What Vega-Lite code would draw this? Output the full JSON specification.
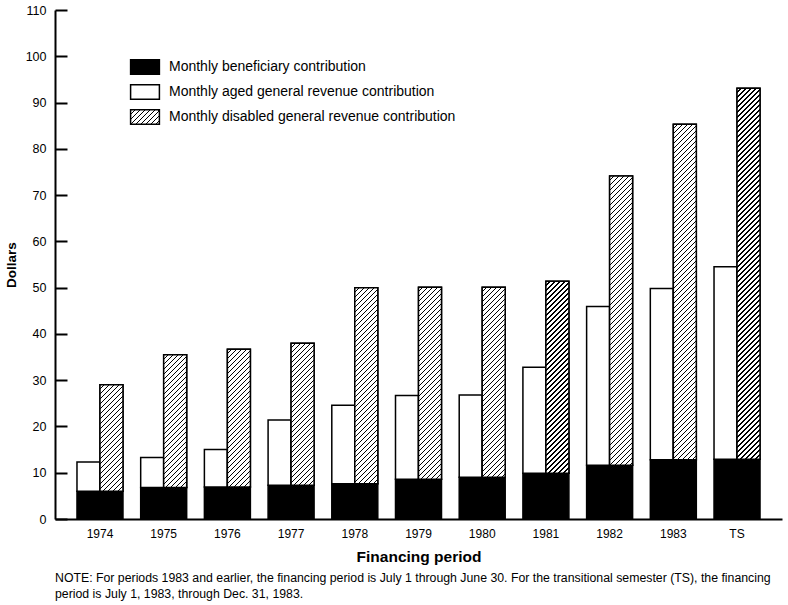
{
 "$schema": "https://vega.github.io/schema/vega-lite/v6.json",
 "width": 727,
 "height": 509,
 "autosize": {"type": "none"},
 "padding": {"left": 55, "top": 10, "right": 6, "bottom": 86},
 "background": "white",
 "config": {"font": "Liberation Sans", "view": {"stroke": null}},
 "params": [
  {"name": "hatchStops", "value": [
{"offset":0,"color":"#fff"},{"offset":0.0094,"color":"#fff"},{"offset":0.0094,"color":"#000"},{"offset":0.0125,"color":"#000"},{"offset":0.0125,"color":"#fff"},{"offset":0.0219,"color":"#fff"},{"offset":0.0219,"color":"#000"},{"offset":0.025,"color":"#000"},{"offset":0.025,"color":"#fff"},{"offset":0.0344,"color":"#fff"},{"offset":0.0344,"color":"#000"},{"offset":0.0375,"color":"#000"},{"offset":0.0375,"color":"#fff"},{"offset":0.0469,"color":"#fff"},{"offset":0.0469,"color":"#000"},{"offset":0.05,"color":"#000"},
{"offset":0.05,"color":"#fff"},{"offset":0.0594,"color":"#fff"},{"offset":0.0594,"color":"#000"},{"offset":0.0625,"color":"#000"},{"offset":0.0625,"color":"#fff"},{"offset":0.0719,"color":"#fff"},{"offset":0.0719,"color":"#000"},{"offset":0.075,"color":"#000"},{"offset":0.075,"color":"#fff"},{"offset":0.0844,"color":"#fff"},{"offset":0.0844,"color":"#000"},{"offset":0.0875,"color":"#000"},{"offset":0.0875,"color":"#fff"},{"offset":0.0969,"color":"#fff"},{"offset":0.0969,"color":"#000"},{"offset":0.1,"color":"#000"},
{"offset":0.1,"color":"#fff"},{"offset":0.1094,"color":"#fff"},{"offset":0.1094,"color":"#000"},{"offset":0.1125,"color":"#000"},{"offset":0.1125,"color":"#fff"},{"offset":0.1219,"color":"#fff"},{"offset":0.1219,"color":"#000"},{"offset":0.125,"color":"#000"},{"offset":0.125,"color":"#fff"},{"offset":0.1344,"color":"#fff"},{"offset":0.1344,"color":"#000"},{"offset":0.1375,"color":"#000"},{"offset":0.1375,"color":"#fff"},{"offset":0.1469,"color":"#fff"},{"offset":0.1469,"color":"#000"},{"offset":0.15,"color":"#000"},
{"offset":0.15,"color":"#fff"},{"offset":0.1594,"color":"#fff"},{"offset":0.1594,"color":"#000"},{"offset":0.1625,"color":"#000"},{"offset":0.1625,"color":"#fff"},{"offset":0.1719,"color":"#fff"},{"offset":0.1719,"color":"#000"},{"offset":0.175,"color":"#000"},{"offset":0.175,"color":"#fff"},{"offset":0.1844,"color":"#fff"},{"offset":0.1844,"color":"#000"},{"offset":0.1875,"color":"#000"},{"offset":0.1875,"color":"#fff"},{"offset":0.1969,"color":"#fff"},{"offset":0.1969,"color":"#000"},{"offset":0.2,"color":"#000"},
{"offset":0.2,"color":"#fff"},{"offset":0.2094,"color":"#fff"},{"offset":0.2094,"color":"#000"},{"offset":0.2125,"color":"#000"},{"offset":0.2125,"color":"#fff"},{"offset":0.2219,"color":"#fff"},{"offset":0.2219,"color":"#000"},{"offset":0.225,"color":"#000"},{"offset":0.225,"color":"#fff"},{"offset":0.2344,"color":"#fff"},{"offset":0.2344,"color":"#000"},{"offset":0.2375,"color":"#000"},{"offset":0.2375,"color":"#fff"},{"offset":0.2469,"color":"#fff"},{"offset":0.2469,"color":"#000"},{"offset":0.25,"color":"#000"},
{"offset":0.25,"color":"#fff"},{"offset":0.2594,"color":"#fff"},{"offset":0.2594,"color":"#000"},{"offset":0.2625,"color":"#000"},{"offset":0.2625,"color":"#fff"},{"offset":0.2719,"color":"#fff"},{"offset":0.2719,"color":"#000"},{"offset":0.275,"color":"#000"},{"offset":0.275,"color":"#fff"},{"offset":0.2844,"color":"#fff"},{"offset":0.2844,"color":"#000"},{"offset":0.2875,"color":"#000"},{"offset":0.2875,"color":"#fff"},{"offset":0.2969,"color":"#fff"},{"offset":0.2969,"color":"#000"},{"offset":0.3,"color":"#000"},
{"offset":0.3,"color":"#fff"},{"offset":0.3094,"color":"#fff"},{"offset":0.3094,"color":"#000"},{"offset":0.3125,"color":"#000"},{"offset":0.3125,"color":"#fff"},{"offset":0.3219,"color":"#fff"},{"offset":0.3219,"color":"#000"},{"offset":0.325,"color":"#000"},{"offset":0.325,"color":"#fff"},{"offset":0.3344,"color":"#fff"},{"offset":0.3344,"color":"#000"},{"offset":0.3375,"color":"#000"},{"offset":0.3375,"color":"#fff"},{"offset":0.3469,"color":"#fff"},{"offset":0.3469,"color":"#000"},{"offset":0.35,"color":"#000"},
{"offset":0.35,"color":"#fff"},{"offset":0.3594,"color":"#fff"},{"offset":0.3594,"color":"#000"},{"offset":0.3625,"color":"#000"},{"offset":0.3625,"color":"#fff"},{"offset":0.3719,"color":"#fff"},{"offset":0.3719,"color":"#000"},{"offset":0.375,"color":"#000"},{"offset":0.375,"color":"#fff"},{"offset":0.3844,"color":"#fff"},{"offset":0.3844,"color":"#000"},{"offset":0.3875,"color":"#000"},{"offset":0.3875,"color":"#fff"},{"offset":0.3969,"color":"#fff"},{"offset":0.3969,"color":"#000"},{"offset":0.4,"color":"#000"},
{"offset":0.4,"color":"#fff"},{"offset":0.4094,"color":"#fff"},{"offset":0.4094,"color":"#000"},{"offset":0.4125,"color":"#000"},{"offset":0.4125,"color":"#fff"},{"offset":0.4219,"color":"#fff"},{"offset":0.4219,"color":"#000"},{"offset":0.425,"color":"#000"},{"offset":0.425,"color":"#fff"},{"offset":0.4344,"color":"#fff"},{"offset":0.4344,"color":"#000"},{"offset":0.4375,"color":"#000"},{"offset":0.4375,"color":"#fff"},{"offset":0.4469,"color":"#fff"},{"offset":0.4469,"color":"#000"},{"offset":0.45,"color":"#000"},
{"offset":0.45,"color":"#fff"},{"offset":0.4594,"color":"#fff"},{"offset":0.4594,"color":"#000"},{"offset":0.4625,"color":"#000"},{"offset":0.4625,"color":"#fff"},{"offset":0.4719,"color":"#fff"},{"offset":0.4719,"color":"#000"},{"offset":0.475,"color":"#000"},{"offset":0.475,"color":"#fff"},{"offset":0.4844,"color":"#fff"},{"offset":0.4844,"color":"#000"},{"offset":0.4875,"color":"#000"},{"offset":0.4875,"color":"#fff"},{"offset":0.4969,"color":"#fff"},{"offset":0.4969,"color":"#000"},{"offset":0.5,"color":"#000"},
{"offset":0.5,"color":"#fff"},{"offset":0.5094,"color":"#fff"},{"offset":0.5094,"color":"#000"},{"offset":0.5125,"color":"#000"},{"offset":0.5125,"color":"#fff"},{"offset":0.5219,"color":"#fff"},{"offset":0.5219,"color":"#000"},{"offset":0.525,"color":"#000"},{"offset":0.525,"color":"#fff"},{"offset":0.5344,"color":"#fff"},{"offset":0.5344,"color":"#000"},{"offset":0.5375,"color":"#000"},{"offset":0.5375,"color":"#fff"},{"offset":0.5469,"color":"#fff"},{"offset":0.5469,"color":"#000"},{"offset":0.55,"color":"#000"},
{"offset":0.55,"color":"#fff"},{"offset":0.5594,"color":"#fff"},{"offset":0.5594,"color":"#000"},{"offset":0.5625,"color":"#000"},{"offset":0.5625,"color":"#fff"},{"offset":0.5719,"color":"#fff"},{"offset":0.5719,"color":"#000"},{"offset":0.575,"color":"#000"},{"offset":0.575,"color":"#fff"},{"offset":0.5844,"color":"#fff"},{"offset":0.5844,"color":"#000"},{"offset":0.5875,"color":"#000"},{"offset":0.5875,"color":"#fff"},{"offset":0.5969,"color":"#fff"},{"offset":0.5969,"color":"#000"},{"offset":0.6,"color":"#000"},
{"offset":0.6,"color":"#fff"},{"offset":0.6094,"color":"#fff"},{"offset":0.6094,"color":"#000"},{"offset":0.6125,"color":"#000"},{"offset":0.6125,"color":"#fff"},{"offset":0.6219,"color":"#fff"},{"offset":0.6219,"color":"#000"},{"offset":0.625,"color":"#000"},{"offset":0.625,"color":"#fff"},{"offset":0.6344,"color":"#fff"},{"offset":0.6344,"color":"#000"},{"offset":0.6375,"color":"#000"},{"offset":0.6375,"color":"#fff"},{"offset":0.6469,"color":"#fff"},{"offset":0.6469,"color":"#000"},{"offset":0.65,"color":"#000"},
{"offset":0.65,"color":"#fff"},{"offset":0.6594,"color":"#fff"},{"offset":0.6594,"color":"#000"},{"offset":0.6625,"color":"#000"},{"offset":0.6625,"color":"#fff"},{"offset":0.6719,"color":"#fff"},{"offset":0.6719,"color":"#000"},{"offset":0.675,"color":"#000"},{"offset":0.675,"color":"#fff"},{"offset":0.6844,"color":"#fff"},{"offset":0.6844,"color":"#000"},{"offset":0.6875,"color":"#000"},{"offset":0.6875,"color":"#fff"},{"offset":0.6969,"color":"#fff"},{"offset":0.6969,"color":"#000"},{"offset":0.7,"color":"#000"},
{"offset":0.7,"color":"#fff"},{"offset":0.7094,"color":"#fff"},{"offset":0.7094,"color":"#000"},{"offset":0.7125,"color":"#000"},{"offset":0.7125,"color":"#fff"},{"offset":0.7219,"color":"#fff"},{"offset":0.7219,"color":"#000"},{"offset":0.725,"color":"#000"},{"offset":0.725,"color":"#fff"},{"offset":0.7344,"color":"#fff"},{"offset":0.7344,"color":"#000"},{"offset":0.7375,"color":"#000"},{"offset":0.7375,"color":"#fff"},{"offset":0.7469,"color":"#fff"},{"offset":0.7469,"color":"#000"},{"offset":0.75,"color":"#000"},
{"offset":0.75,"color":"#fff"},{"offset":0.7594,"color":"#fff"},{"offset":0.7594,"color":"#000"},{"offset":0.7625,"color":"#000"},{"offset":0.7625,"color":"#fff"},{"offset":0.7719,"color":"#fff"},{"offset":0.7719,"color":"#000"},{"offset":0.775,"color":"#000"},{"offset":0.775,"color":"#fff"},{"offset":0.7844,"color":"#fff"},{"offset":0.7844,"color":"#000"},{"offset":0.7875,"color":"#000"},{"offset":0.7875,"color":"#fff"},{"offset":0.7969,"color":"#fff"},{"offset":0.7969,"color":"#000"},{"offset":0.8,"color":"#000"},
{"offset":0.8,"color":"#fff"},{"offset":0.8094,"color":"#fff"},{"offset":0.8094,"color":"#000"},{"offset":0.8125,"color":"#000"},{"offset":0.8125,"color":"#fff"},{"offset":0.8219,"color":"#fff"},{"offset":0.8219,"color":"#000"},{"offset":0.825,"color":"#000"},{"offset":0.825,"color":"#fff"},{"offset":0.8344,"color":"#fff"},{"offset":0.8344,"color":"#000"},{"offset":0.8375,"color":"#000"},{"offset":0.8375,"color":"#fff"},{"offset":0.8469,"color":"#fff"},{"offset":0.8469,"color":"#000"},{"offset":0.85,"color":"#000"},
{"offset":0.85,"color":"#fff"},{"offset":0.8594,"color":"#fff"},{"offset":0.8594,"color":"#000"},{"offset":0.8625,"color":"#000"},{"offset":0.8625,"color":"#fff"},{"offset":0.8719,"color":"#fff"},{"offset":0.8719,"color":"#000"},{"offset":0.875,"color":"#000"},{"offset":0.875,"color":"#fff"},{"offset":0.8844,"color":"#fff"},{"offset":0.8844,"color":"#000"},{"offset":0.8875,"color":"#000"},{"offset":0.8875,"color":"#fff"},{"offset":0.8969,"color":"#fff"},{"offset":0.8969,"color":"#000"},{"offset":0.9,"color":"#000"},
{"offset":0.9,"color":"#fff"},{"offset":0.9094,"color":"#fff"},{"offset":0.9094,"color":"#000"},{"offset":0.9125,"color":"#000"},{"offset":0.9125,"color":"#fff"},{"offset":0.9219,"color":"#fff"},{"offset":0.9219,"color":"#000"},{"offset":0.925,"color":"#000"},{"offset":0.925,"color":"#fff"},{"offset":0.9344,"color":"#fff"},{"offset":0.9344,"color":"#000"},{"offset":0.9375,"color":"#000"},{"offset":0.9375,"color":"#fff"},{"offset":0.9469,"color":"#fff"},{"offset":0.9469,"color":"#000"},{"offset":0.95,"color":"#000"},
{"offset":0.95,"color":"#fff"},{"offset":0.9594,"color":"#fff"},{"offset":0.9594,"color":"#000"},{"offset":0.9625,"color":"#000"},{"offset":0.9625,"color":"#fff"},{"offset":0.9719,"color":"#fff"},{"offset":0.9719,"color":"#000"},{"offset":0.975,"color":"#000"},{"offset":0.975,"color":"#fff"},{"offset":0.9844,"color":"#fff"},{"offset":0.9844,"color":"#000"},{"offset":0.9875,"color":"#000"},{"offset":0.9875,"color":"#fff"},{"offset":0.9969,"color":"#fff"},{"offset":0.9969,"color":"#000"},{"offset":1,"color":"#000"}
  ]}
 ],
 "title": {
  "text": ["NOTE:  For periods 1983 and earlier, the financing period is  July 1 through June 30. For the transitional semester (TS), the financing", "period is July 1, 1983, through Dec. 31, 1983."],
  "orient": "bottom",
  "anchor": "start",
  "frame": "group",
  "fontSize": 12.3,
  "fontWeight": "normal",
  "color": "#000",
  "offset": 7,
  "lineHeight": 16
 },
 "data": {"values": [
  {"period": "1974", "bar": "aged", "part": "base", "component": "Monthly beneficiary contribution", "value": 6.0},
  {"period": "1974", "bar": "aged", "part": "top", "component": "Monthly aged general revenue contribution", "value": 6.3},
  {"period": "1974", "bar": "disabled", "part": "base", "component": "Monthly beneficiary contribution", "value": 6.0},
  {"period": "1974", "bar": "disabled", "part": "top", "component": "Monthly disabled general revenue contribution", "value": 23.0},
  {"period": "1975", "bar": "aged", "part": "base", "component": "Monthly beneficiary contribution", "value": 6.8},
  {"period": "1975", "bar": "aged", "part": "top", "component": "Monthly aged general revenue contribution", "value": 6.5},
  {"period": "1975", "bar": "disabled", "part": "base", "component": "Monthly beneficiary contribution", "value": 6.8},
  {"period": "1975", "bar": "disabled", "part": "top", "component": "Monthly disabled general revenue contribution", "value": 28.7},
  {"period": "1976", "bar": "aged", "part": "base", "component": "Monthly beneficiary contribution", "value": 6.9},
  {"period": "1976", "bar": "aged", "part": "top", "component": "Monthly aged general revenue contribution", "value": 8.1},
  {"period": "1976", "bar": "disabled", "part": "base", "component": "Monthly beneficiary contribution", "value": 6.9},
  {"period": "1976", "bar": "disabled", "part": "top", "component": "Monthly disabled general revenue contribution", "value": 29.8},
  {"period": "1977", "bar": "aged", "part": "base", "component": "Monthly beneficiary contribution", "value": 7.3},
  {"period": "1977", "bar": "aged", "part": "top", "component": "Monthly aged general revenue contribution", "value": 14.1},
  {"period": "1977", "bar": "disabled", "part": "base", "component": "Monthly beneficiary contribution", "value": 7.3},
  {"period": "1977", "bar": "disabled", "part": "top", "component": "Monthly disabled general revenue contribution", "value": 30.7},
  {"period": "1978", "bar": "aged", "part": "base", "component": "Monthly beneficiary contribution", "value": 7.6},
  {"period": "1978", "bar": "aged", "part": "top", "component": "Monthly aged general revenue contribution", "value": 17.0},
  {"period": "1978", "bar": "disabled", "part": "base", "component": "Monthly beneficiary contribution", "value": 7.6},
  {"period": "1978", "bar": "disabled", "part": "top", "component": "Monthly disabled general revenue contribution", "value": 42.4},
  {"period": "1979", "bar": "aged", "part": "base", "component": "Monthly beneficiary contribution", "value": 8.6},
  {"period": "1979", "bar": "aged", "part": "top", "component": "Monthly aged general revenue contribution", "value": 18.1},
  {"period": "1979", "bar": "disabled", "part": "base", "component": "Monthly beneficiary contribution", "value": 8.6},
  {"period": "1979", "bar": "disabled", "part": "top", "component": "Monthly disabled general revenue contribution", "value": 41.5},
  {"period": "1980", "bar": "aged", "part": "base", "component": "Monthly beneficiary contribution", "value": 9.0},
  {"period": "1980", "bar": "aged", "part": "top", "component": "Monthly aged general revenue contribution", "value": 17.8},
  {"period": "1980", "bar": "disabled", "part": "base", "component": "Monthly beneficiary contribution", "value": 9.0},
  {"period": "1980", "bar": "disabled", "part": "top", "component": "Monthly disabled general revenue contribution", "value": 41.1},
  {"period": "1981", "bar": "aged", "part": "base", "component": "Monthly beneficiary contribution", "value": 9.9},
  {"period": "1981", "bar": "aged", "part": "top", "component": "Monthly aged general revenue contribution", "value": 22.9},
  {"period": "1981", "bar": "disabled", "part": "base", "component": "Monthly beneficiary contribution", "value": 9.9},
  {"period": "1981", "bar": "disabled", "part": "top", "component": "Monthly disabled general revenue contribution", "value": 41.5},
  {"period": "1982", "bar": "aged", "part": "base", "component": "Monthly beneficiary contribution", "value": 11.6},
  {"period": "1982", "bar": "aged", "part": "top", "component": "Monthly aged general revenue contribution", "value": 34.3},
  {"period": "1982", "bar": "disabled", "part": "base", "component": "Monthly beneficiary contribution", "value": 11.6},
  {"period": "1982", "bar": "disabled", "part": "top", "component": "Monthly disabled general revenue contribution", "value": 62.5},
  {"period": "1983", "bar": "aged", "part": "base", "component": "Monthly beneficiary contribution", "value": 12.8},
  {"period": "1983", "bar": "aged", "part": "top", "component": "Monthly aged general revenue contribution", "value": 37.0},
  {"period": "1983", "bar": "disabled", "part": "base", "component": "Monthly beneficiary contribution", "value": 12.8},
  {"period": "1983", "bar": "disabled", "part": "top", "component": "Monthly disabled general revenue contribution", "value": 72.5},
  {"period": "TS", "bar": "aged", "part": "base", "component": "Monthly beneficiary contribution", "value": 12.9},
  {"period": "TS", "bar": "aged", "part": "top", "component": "Monthly aged general revenue contribution", "value": 41.6},
  {"period": "TS", "bar": "disabled", "part": "base", "component": "Monthly beneficiary contribution", "value": 12.9},
  {"period": "TS", "bar": "disabled", "part": "top", "component": "Monthly disabled general revenue contribution", "value": 80.2}
 ]},
 "encoding": {
  "x": {
   "field": "period", "type": "nominal", "sort": null,
   "scale": {"paddingInner": 0.278, "paddingOuter": 0.345},
   "axis": {"title": "Financing period", "ticks": false, "domainColor": "#000", "domainWidth": 2, "labelAngle": 0, "labelFontSize": 12, "labelColor": "#000", "labelPadding": 9, "titleFontSize": 15.5, "titleFontWeight": "bold", "titleColor": "#000", "titlePadding": 10}
  },
  "xOffset": {"field": "bar", "type": "nominal", "sort": ["aged", "disabled"], "scale": {"domain": ["aged", "disabled"], "paddingInner": 0, "paddingOuter": 0}}
 },
 "layer": [
  {
   "mark": {"type": "bar", "stroke": "#000", "strokeWidth": 1.5},
   "encoding": {
    "y": {
     "field": "value", "type": "quantitative", "stack": "zero",
     "scale": {"domain": [0, 110], "nice": false},
     "axis": {"title": "Dollars", "values": [0, 10, 20, 30, 40, 50, 60, 70, 80, 90, 100, 110], "grid": false, "domainColor": "#000", "domainWidth": 2, "tickColor": "#000", "tickWidth": 2, "tickSize": -12, "labelPadding": 21, "labelFontSize": 12.5, "labelColor": "#000", "titleFontSize": 13.5, "titleFontWeight": "bold", "titleColor": "#000", "titlePadding": 7}
    },
    "order": {"field": "part"},
    "fill": {
     "field": "component", "type": "nominal",
     "scale": {"domain": ["Monthly beneficiary contribution", "Monthly aged general revenue contribution", "Monthly disabled general revenue contribution"], "range": ["#000", "#fff", {"expr": "{gradient: 'linear', x1: 0, y1: 0, x2: 11.19, y2: 5.4, stops: hatchStops}"}]},
     "legend": {
      "orient": "none", "legendX": 77, "legendY": 44, "title": null, "padding": 0,
      "symbolType": "M-1.2,-0.6H1.2V0.6H-1.2Z", "symbolSize": 576,
      "symbolStrokeColor": "#000", "symbolStrokeWidth": 1.5,
      "labelFontSize": 14, "labelColor": "#000", "labelOffset": 11, "labelLimit": 500, "rowPadding": 1
     }
    }
   }
  },
  {
   "transform": [
    {"stack": "value", "groupby": ["period", "bar"], "sort": [{"field": "part", "order": "ascending"}], "as": ["v0", "v1"]},
    {"filter": "datum.component === 'Monthly disabled general revenue contribution'"}
   ],
   "mark": {"type": "bar", "stroke": "#000", "strokeWidth": 1.5},
   "encoding": {
    "y": {
     "field": "v1", "type": "quantitative",
     "axis": {"title": "Dollars", "values": [0, 10, 20, 30, 40, 50, 60, 70, 80, 90, 100, 110], "grid": false, "domainColor": "#000", "domainWidth": 2, "tickColor": "#000", "tickWidth": 2, "tickSize": -12, "labelPadding": 21, "labelFontSize": 12.5, "labelColor": "#000", "titleFontSize": 13.5, "titleFontWeight": "bold", "titleColor": "#000", "titlePadding": 7}
    },
    "y2": {"field": "v0"},
    "fill": {"value": {"expr": "{gradient: 'linear', x1: 0, y1: 0, x2: bandwidth('xOffset') * 400 / (pow(bandwidth('xOffset'), 2) + pow(scale('y', datum.v0) - scale('y', datum.v1), 2)), y2: (scale('y', datum.v0) - scale('y', datum.v1)) * 400 / (pow(bandwidth('xOffset'), 2) + pow(scale('y', datum.v0) - scale('y', datum.v1), 2)), stops: hatchStops}"}}
   }
  }
 ]
}
